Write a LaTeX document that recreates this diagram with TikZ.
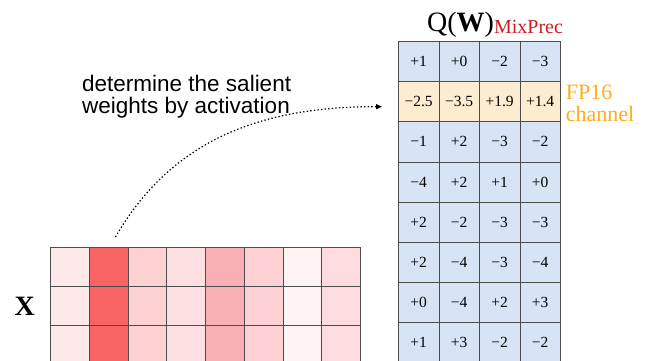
\documentclass[tikz,border=0pt]{standalone}
\usepackage{fontspec}
\setmainfont{Liberation Serif}
\setsansfont{Liberation Sans}
\usepackage{tikz}
\usepackage{xcolor}
\usetikzlibrary{arrows.meta, positioning}
\definecolor{wblue}{RGB}{214,228,245}
\definecolor{worange}{RGB}{253,236,208}
\definecolor{mixred}{RGB}{200,30,35}
\definecolor{fporange}{RGB}{255,172,30}
\definecolor{xca}{RGB}{253,233,234}
\definecolor{xcb}{RGB}{248,100,100}
\definecolor{xcc}{RGB}{253,208,209}
\definecolor{xcd}{RGB}{254,224,227}
\definecolor{xce}{RGB}{249,176,180}
\definecolor{xcf}{RGB}{254,210,213}
\definecolor{xcg}{RGB}{255,244,244}
\definecolor{xch}{RGB}{253,219,222}
\tikzstyle{wcell} = [rectangle, anchor=north west, minimum width=40.5pt, minimum height=40.2pt,
                     inner sep=0pt, draw=black!70, line width=0.7pt, text centered,
                     font=\fontsize{15.5}{15.5}\selectfont]
\tikzstyle{xcell} = [rectangle, anchor=north west, minimum width=38.75pt, minimum height=39pt,
                     inner sep=0pt, draw=black!70, line width=0.7pt]
\tikzstyle{arrow} = [-{Triangle[length=6pt, width=5pt]}, line width=1.2pt,
                     dash pattern=on 1.4pt off 2.2pt]

\begin{document}
\begin{tikzpicture}[x=1pt, y=1pt]
    \useasboundingbox (0,0) rectangle (649,-360);
    \clip (0,0) rectangle (649,-360);

    % quantized weights, one salient row kept in FP16
    \foreach \r/\fc/\vals in {1/wblue/{+1,+0,−2,−3}, 2/worange/{−2.5,−3.5,+1.9,+1.4},
                              3/wblue/{−1,+2,−3,−2}, 4/wblue/{−4,+2,+1,+0},
                              5/wblue/{+2,−2,−3,−3}, 6/wblue/{+2,−4,−3,−4},
                              7/wblue/{+0,−4,+2,+3}, 8/wblue/{+1,+3,−2,−2}}
        \foreach \v [count=\c] in \vals
            \node (w-\r-\c) [wcell, fill=\fc] at ({398+(\c-1)*40.5}, {-41-(\r-1)*40.2}) {\v};

    % activations
    \foreach \col [count=\c] in {xca,xcb,xcc,xcd,xce,xcf,xcg,xch}
        \foreach \r in {1,2,3}
            \node (x-\r-\c) [xcell, fill=\col] at ({50+(\c-1)*38.75}, {-247-(\r-1)*39}) {};

    \node (title) [anchor=base west, inner sep=0pt] at (427,-31)
        {\fontsize{28}{28}\selectfont Q(\textbf{W})\raisebox{-2pt}{\fontsize{20}{20}\selectfont\color{mixred}MixPrec}};
    \node (fp) [anchor=north west, inner sep=0pt, align=left, text=fporange,
                font=\fontsize{22}{22}\selectfont] at ([xshift=5pt, yshift=-4pt]w-2-4.north east) {FP16\\channel};
    \node (xlab) [left=15pt of x-2-1, inner sep=0pt, font=\fontsize{28}{28}\selectfont\bfseries] {X};
    \node (note) [anchor=north west, inner sep=0pt, align=left, font=\sffamily\fontsize{22.5}{22}\selectfont]
        at (82,-75) {determine the salient\\weights by activation};

    \draw[arrow] ([shift={(7pt,10pt)}]x-1-2.north) to[out=60, in=180] ([shift={(-16pt,-5pt)}]w-2-1.west);
\end{tikzpicture}
\end{document}
